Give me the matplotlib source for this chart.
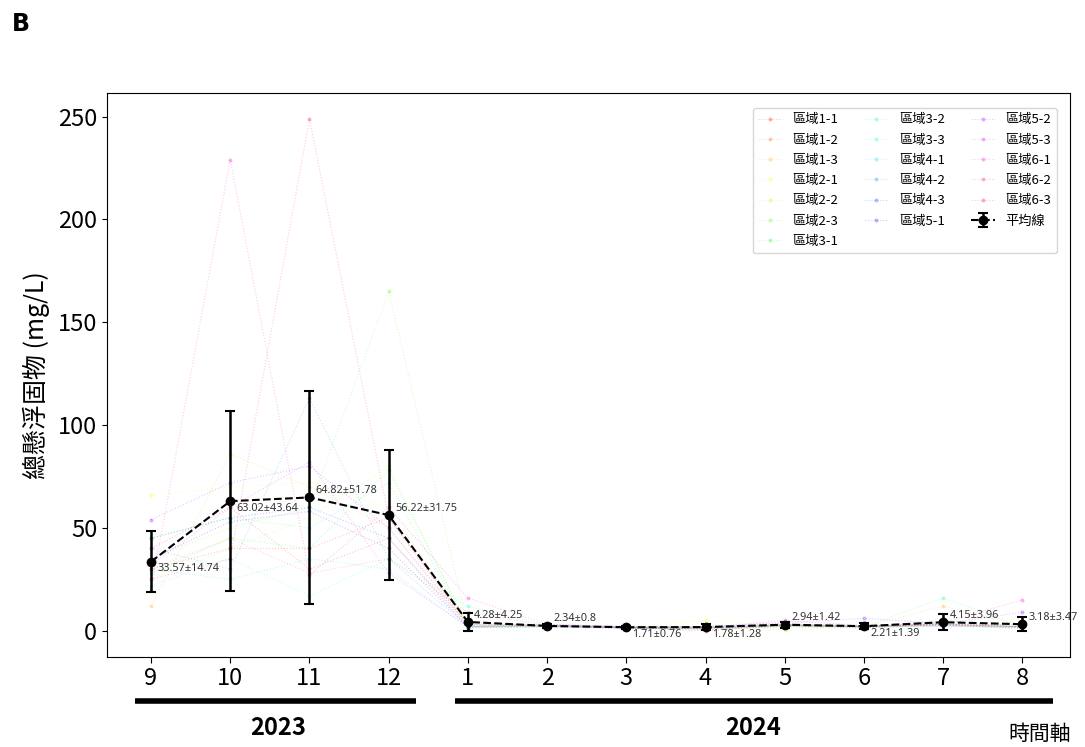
import numpy as np
import matplotlib.pyplot as plt
import matplotlib.transforms as mtransforms

plt.rcParams['font.family'] = ['Noto Sans CJK TC', 'DejaVu Sans']

# x axis: months Sep 2023 .. Aug 2024
months = ["9", "10", "11", "12", "1", "2", "3", "4", "5", "6", "7", "8"]
years = ["2023", "2024"]

site_names = ["區域1-1", "區域1-2", "區域1-3", "區域2-1", "區域2-2", "區域2-3",
              "區域3-1", "區域3-2", "區域3-3", "區域4-1", "區域4-2", "區域4-3",
              "區域5-1", "區域5-2", "區域5-3", "區域6-1", "區域6-2", "區域6-3"]

# TSS per site (mg/L)
site_values = [
    [40, 60, 30, 45, 3.0, 2.5, 1.5, 0.5, 2.5, 2.0, 3.0, 2.0],
    [30, 45, 28, 35, 9.0, 2.5, 1.5, 1.0, 2.0, 1.5, 3.5, 2.0],
    [12, 86, 70, 50, 2.0, 2.0, 1.5, 1.5, 3.0, 2.0, 12.0, 2.5],
    [66, 70, 72, 60, 2.0, 2.0, 2.0, 5.0, 2.5, 2.0, 3.0, 1.5],
    [25, 40, 55, 80, 2.0, 2.5, 1.5, 2.0, 0.5, 1.5, 2.5, 1.5],
    [35, 50, 60, 165, 2.5, 2.0, 1.5, 1.5, 2.0, 1.5, 3.0, 1.0],
    [28, 45, 40, 78, 3.0, 2.5, 2.0, 2.0, 3.0, 2.0, 5.0, 1.5],
    [45, 55, 50, 72, 2.0, 2.0, 1.5, 1.0, 2.5, 2.0, 16.0, 2.0],
    [22, 35, 17, 35, 12.0, 2.5, 1.5, 1.5, 3.0, 2.5, 3.0, 2.0],
    [30, 25, 35, 30, 1.5, 2.0, 1.5, 1.0, 2.0, 1.5, 2.5, 1.5],
    [40, 30, 113, 35, 2.0, 2.0, 1.5, 1.5, 2.5, 2.0, 2.0, 2.0],
    [45, 55, 60, 45, 1.5, 2.0, 1.0, 1.5, 2.5, 2.0, 2.5, 1.5],
    [35, 53, 58, 40, 2.0, 2.5, 1.5, 1.0, 3.0, 2.5, 3.0, 3.0],
    [54, 72, 80, 50, 3.0, 3.0, 2.0, 2.0, 4.0, 6.0, 3.5, 9.0],
    [32, 60, 82, 28, 2.0, 3.0, 2.0, 1.5, 5.0, 2.5, 3.0, 2.0],
    [20, 229, 27, 60, 16.0, 3.0, 2.0, 2.0, 3.5, 2.0, 4.0, 15.0],
    [25, 35, 249, 55, 4.0, 2.5, 1.5, 1.5, 3.0, 2.0, 3.0, 2.0],
    [30, 40, 40, 55, 2.5, 2.5, 1.5, 0.0, 2.5, 2.0, 3.0, 2.0],
]

mean_values = [33.57, 63.02, 64.82, 56.22, 4.28, 2.34, 1.71, 1.78, 2.94, 2.21, 4.15, 3.18]
sd_values = [14.74, 43.64, 51.78, 31.75, 4.25, 0.8, 0.76, 1.28, 1.42, 1.39, 3.96, 3.47]

# label placement above (+1) or below (-1) the mean point
label_side = [-1, -1, 1, 1, 1, 1, -1, -1, 1, -1, 1, 1]

fig = plt.figure(figsize=(10.85, 7.47), dpi=100)
ax = fig.add_axes([0.0986, 0.1205, 0.8875, 0.755])

x = np.arange(len(months))
colors = plt.cm.hsv(np.linspace(0, 1, len(site_names)))
for name, vals, c in zip(site_names, site_values, colors):
    ax.plot(x, vals, linestyle=":", linewidth=0.8, marker="o", markersize=2,
            color=c, alpha=0.22, label=name)

ax.errorbar(x, mean_values, yerr=sd_values, fmt="o--", color="black",
            markersize=6, linewidth=1.5, elinewidth=1.8, capsize=3.5,
            capthick=1.5, label="平均線", zorder=5)

for xi, m, s, side in zip(x, mean_values, sd_values, label_side):
    ax.annotate(f"{m}±{s}", (xi, m), xytext=(4.5, 5 * side),
                textcoords="offset points", fontsize=7.8, family="Noto Sans",
                va="center", ha="left", color="#333333", zorder=6)

ax.set_xlim(-0.556, 11.6)
ax.set_xticks(x)
ax.set_xticklabels(months, fontsize=17)
ax.tick_params(axis="y", labelsize=17)
ax.tick_params(axis="x", length=4)
ax.set_ylabel("總懸浮固物 (mg/L)", fontsize=18, labelpad=6)

ax.legend(loc="upper right", ncol=3, fontsize=9.5, frameon=True,
          bbox_to_anchor=(0.993, 0.985), handlelength=1.8, labelspacing=0.55,
          columnspacing=2.0)

# year bars under the month ticks
trans = mtransforms.blended_transform_factory(ax.transData, ax.transAxes)
ax.plot([-0.2, 3.35], [-0.078, -0.078], color="black", linewidth=4,
        transform=trans, clip_on=False, solid_capstyle="butt")
ax.plot([3.84, 11.39], [-0.078, -0.078], color="black", linewidth=4,
        transform=trans, clip_on=False, solid_capstyle="butt")
ax.text(1.6, -0.126, years[0], transform=trans, ha="center", va="center",
        fontsize=17, fontweight="bold")
ax.text(7.6, -0.126, years[1], transform=trans, ha="center", va="center",
        fontsize=17, fontweight="bold")
ax.text(11.22, -0.136, "時間軸", transform=trans, ha="center", va="center",
        fontsize=15)

fig.text(0.011, 0.968, "B", fontsize=17, fontweight="bold", family="DejaVu Sans",
         ha="left", va="center")

fig.savefig("out.png", dpi=100)
